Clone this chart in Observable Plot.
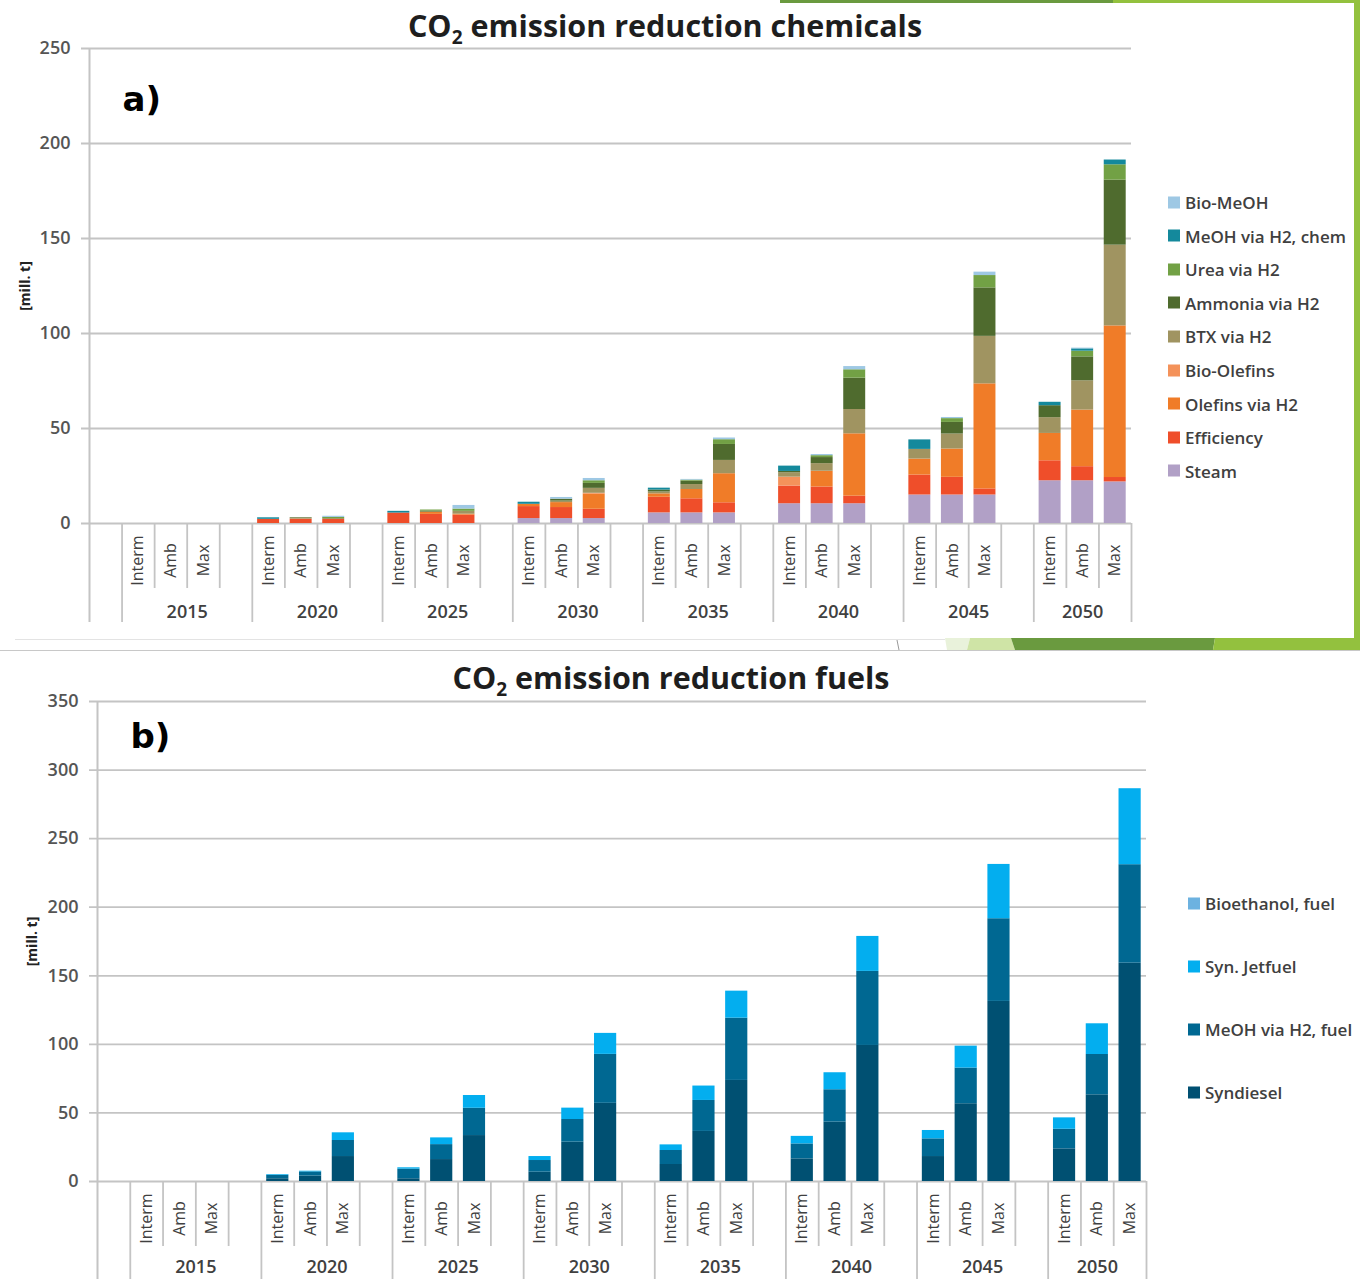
<!DOCTYPE html>
<html><head><meta charset="utf-8">
<script src="https://cdn.jsdelivr.net/npm/d3@7"></script>
<script src="https://cdn.jsdelivr.net/npm/@observablehq/plot@0.6"></script>
<style>
body{margin:0;background:#fff;}
#root{position:relative;width:1360px;height:1279px;overflow:hidden;font-family:"Open Sans",sans-serif;background:#fff;}
.chart{position:absolute;left:0;}
.title{position:absolute;font-weight:700;font-size:30.5px;color:#1e1e1e;white-space:nowrap;transform:translate(-50%,-50%);line-height:1;}
.title sub{font-size:19px;vertical-align:-7px;line-height:0;}
.leg{position:absolute;white-space:nowrap;font-size:17px;font-weight:600;color:#404040;line-height:1;display:flex;align-items:center;transform:translateY(-50%);}
.leg i{display:inline-block;width:12px;height:12px;margin-right:5px;}
.deco{position:absolute;left:0;top:0;pointer-events:none;}
</style>
</head><body><div id="root"></div>
<script>
// ---------------- data ----------------
const years = ["2015","2020","2025","2030","2035","2040","2045","2050"];
const scenarios = ["Interm","Amb","Max"];

// chemicals (stack order bottom -> top); each array: per year Interm, Amb, Max
const chemSeries = ["Steam","Efficiency","Olefins via H2","Bio-Olefins","BTX via H2","Ammonia via H2","Urea via H2","MeOH via H2, chem","Bio-MeOH"];
const chemColors = ["#b1a0c6","#ef4e2a","#f07c28","#f4925a","#a09461","#4f6b2e","#72a145","#14899c","#9ec8e4"];
const steam      = [0,0,0, 0,0,0, 0,0,0, 2.6,2.6,2.6, 5.6,5.6,5.6, 10.4,10.4,10.4, 15,15,15, 22.5,22.5,21.9];
const efficiency = [0,0,0, 2.2,2.3,2.1, 5.5,4.8,4.4, 6.3,5.8,4.9, 8.2,7.4,5.3, 9.3,8.8,4.0, 10.5,9.3,3.2, 10.5,7.4,2.3];
const olefinsH2  = [0,0,0, 0,0,0, 0,1.2,0.5, 1.2,2.6,7.9, 1.8,4.9,15.3, 0,8.3,32.8, 8.4,14.9,55.3, 14.4,29.8,79.8];
const bioOlefins = [0,0,0, 0,0,0, 0,0,0, 0,0,0.5, 0,0,0, 4.7,0,0, 0,0,0, 0,0,0];
const btxH2      = [0,0,0, 0,0.5,0.5, 0,0,1.5, 0,0.8,2.6, 1.0,2.6,7.0, 2.3,4.0,12.8, 5.1,7.9,25.0, 8.3,15.4,42.5];
const ammoniaH2  = [0,0,0, 0,0.3,0, 0,0.6,0, 0,1.0,2.6, 1.0,1.8,8.4, 0.7,3.2,16.5, 0,6.1,25.5, 6.3,12.6,34.2];
const ureaH2     = [0,0,0, 0,0,0.6, 0,0.5,1.2, 0,0,1.4, 0,0.5,2.5, 0,1.0,4.4, 0,2.0,6.5, 0,3.0,8.1];
const meohChem   = [0,0,0, 0.8,0,0, 0.9,0,0, 1.1,0,0, 1.0,0,0, 2.8,0,0, 5.0,0,0, 1.8,1.2,2.5];
const bioMeoh    = [0,0,0, 0,0,0.6, 0,0,1.9, 0,0.9,1.2, 0,0.4,0.9, 0,0.6,1.7, 0,0.6,1.8, 0,0.4,0];
const chemValues = [steam, efficiency, olefinsH2, bioOlefins, btxH2, ammoniaH2, ureaH2, meohChem, bioMeoh];
const chemTicks = [0,50,100,150,200,250];

// fuels (stack order bottom -> top)
const fuelSeries = ["Syndiesel","MeOH via H2, fuel","Syn. Jetfuel","Bioethanol, fuel"];
const fuelColors = ["#005072","#006892","#03aeef","#6db2e0"];
const syndiesel  = [0,0,0, 2.0,4.0,18.2, 2.0,16.0,33.5, 6.8,28.7,57.0, 12.4,36.5,73.7, 16.5,43.3,99.2, 18.2,56.7,131.3, 23.8,63.2,159.2];
const meohFuel   = [0,0,0, 2.5,3.0,11.7, 7.0,10.9,19.9, 8.5,16.5,35.7, 10.2,22.6,45.4, 10.9,23.6,54.0, 12.9,26.0,60.3, 14.3,29.4,71.8];
const jetfuel    = [0,0,0, 0.5,0.5,5.6, 1.0,4.9,9.3, 2.9,8.3,15.3, 4.1,10.5,19.7, 5.5,12.4,25.5, 6.1,16.0,39.6, 8.3,22.4,55.4];
const bioethanol = [0,0,0, 0,0,0, 0,0,0, 0,0,0, 0,0,0, 0,0,0, 0,0,0, 0,0,0];
const fuelValues = [syndiesel, meohFuel, jetfuel, bioethanol];
const fuelTicks = [0,50,100,150,200,250,300,350];

// ---------------- helpers ----------------
const SLOTS = 1 + (years.length - 1) * 4 + scenarios.length; // leading gap + groups
const slotOf = (g, s) => 1 + g * 4 + s;

function stackRows(series, values) {
  const rows = [];
  years.forEach((yr, g) => scenarios.forEach((sc, s) => {
    const b = g * 3 + s;
    series.forEach((name, k) => {
      const v = values[k][b];
      if (v > 0) rows.push({slot: slotOf(g, s), series: name, value: v});
    });
  }));
  return rows;
}
const scenRows = years.flatMap((yr, g) => scenarios.map((sc, s) => ({slot: slotOf(g, s), label: sc})));
const yearRows = years.map((yr, g) => {
  const a = slotOf(g, 0), b = Math.min(a + 4, SLOTS);
  return {center: (a + b) / 2, label: yr};
});
const longSeps = years.map((yr, g) => slotOf(g, 0)).concat([SLOTS]);
const shortSeps = [];
for (let g = 0; g < years.length; g++) for (let s = 1; s <= 3; s++) {
  const v = slotOf(g, s); if (v < SLOTS) shortSeps.push(v);
}

const GRID = "#c4c4c4";
const TXT = "#404040";

function makeChart(cfg) {
  const innerH = cfg.height - cfg.mt - cfg.mb;
  const ppu = innerH / cfg.ymax;           // pixels per unit
  const below = px => -px / ppu;            // value for a pixel offset below the baseline
  const rows = stackRows(cfg.series, cfg.values);
  return Plot.plot({
    width: 1360, height: cfg.height,
    marginLeft: cfg.ml, marginRight: cfg.mr, marginTop: cfg.mt, marginBottom: cfg.mb,
    x: {type: "linear", domain: [0, SLOTS], axis: null},
    y: {domain: [0, cfg.ymax], axis: null},
    color: {domain: cfg.series, range: cfg.colors},
    style: {fontFamily: "'Open Sans', sans-serif", background: "transparent", overflow: "visible"},
    marks: [
      Plot.ruleY(cfg.ticks, {stroke: GRID, strokeWidth: 1.8, insetLeft: -8}),
      Plot.ruleX([0], {y1: cfg.ymax, y2: below(cfg.axisExt), stroke: GRID, strokeWidth: 2}),
      Plot.ruleX(longSeps, {y1: 0, y2: below(cfg.axisExt), stroke: GRID, strokeWidth: 1.8}),
      Plot.ruleX(shortSeps, {y1: 0, y2: below(65), stroke: GRID, strokeWidth: 1.8}),
      Plot.rectY(rows, {x1: "slot", x2: d => d.slot + 1, y: "value", fill: "series", insetLeft: 5.3, insetRight: 5.3}),
      Plot.text(cfg.ticks, {frameAnchor: "left", y: d => d, text: d => String(d), textAnchor: "end", dx: cfg.tickDx, fontSize: 18, fontWeight: 600, fill: "#555"}),
      Plot.text(scenRows, {x: d => d.slot + 0.5, y: 0, text: "label", rotate: -90, dy: 37, fontSize: 16, fill: TXT}),
      Plot.text(yearRows, {x: "center", y: 0, text: "label", dy: cfg.yearDy, fontSize: 18, fontWeight: 600, fill: TXT}),
      Plot.text([cfg.tag], {frameAnchor: "top-left", lineAnchor: "middle", dx: 33, dy: cfg.tagDy, textAnchor: "start", fontSize: 34, fontWeight: "bold", fontFamily: "'DejaVu Sans', sans-serif", fill: "#000"}),
      Plot.text(["[mill. t]"], {frameAnchor: "left", textAnchor: "middle", lineAnchor: "middle", dx: cfg.labDx, rotate: -90, fontSize: 14, fontWeight: "bold", fill: "#222"})
    ]
  });
}

const root = document.getElementById("root");

// ---------- chart a ----------
const c1 = makeChart({series: chemSeries, colors: chemColors, values: chemValues, ticks: chemTicks, ymax: 250,
  height: 640, ml: 89, mr: 229, mt: 48, mb: 117, axisExt: 99, tickDx: -19, tag: "a)", tagDy: 52, labDx: -64, yearDy: 89});
c1.classList.add("chart"); c1.style.top = "0px";
root.appendChild(c1);

// ---------- chart b ----------
const c2 = makeChart({series: fuelSeries, colors: fuelColors, values: fuelValues, ticks: fuelTicks, ymax: 350,
  height: 629, ml: 97, mr: 214, mt: 51, mb: 98, axisExt: 110, tickDx: -19, tag: "b)", tagDy: 36, labDx: -65, yearDy: 86});
c2.classList.add("chart"); c2.style.top = "650px";
root.appendChild(c2);

// ---------- titles ----------
function addTitle(text, x, y) {
  const d = document.createElement("div");
  d.className = "title";
  d.innerHTML = text;
  d.style.left = x + "px"; d.style.top = y + "px";
  root.appendChild(d);
}
addTitle("CO<sub>2</sub> emission reduction chemicals", 665, 25);
addTitle("CO<sub>2</sub> emission reduction fuels", 671, 677);

// ---------- legends ----------
function addLegend(series, colors, x, y0, step) {
  const order = series.map((s, i) => i).reverse();
  order.forEach((i, k) => {
    const d = document.createElement("div");
    d.className = "leg";
    d.style.left = x + "px"; d.style.top = (y0 + k * step) + "px";
    d.innerHTML = `<i style="background:${colors[i]}"></i>${series[i]}`;
    root.appendChild(d);
  });
}
addLegend(chemSeries, chemColors, 1168, 202, 33.6);
addLegend(fuelSeries, fuelColors, 1188, 903, 63);

// ---------- slide decoration ----------
const deco = `<svg class="deco" width="1360" height="1279">
  <rect x="780" y="0" width="333" height="3" fill="#6a9a3f"/>
  <rect x="1113" y="0" width="247" height="3" fill="#93c13e"/>
  <rect x="1354" y="0" width="6" height="650" fill="#93c13e"/>
  <line x1="15" y1="639.5" x2="945" y2="639.5" stroke="#e3e3e3" stroke-width="1"/>
  <line x1="0" y1="650.5" x2="1360" y2="650.5" stroke="#c8c8c8" stroke-width="1"/>
  <line x1="897" y1="640" x2="899" y2="650" stroke="#999" stroke-width="1"/>
  <polygon points="945,638 970,638 967,650 947,650" fill="#e9f2db"/>
  <polygon points="970,638 1011,638 1015,650 967,650" fill="#cfe4a6"/>
  <polygon points="1011,638 1215,638 1213,650 1015,650" fill="#6a9a3f"/>
  <polygon points="1215,638 1360,638 1360,650 1213,650" fill="#93c13e"/>
</svg>`;
root.insertAdjacentHTML("beforeend", deco);
</script>
</body></html>
